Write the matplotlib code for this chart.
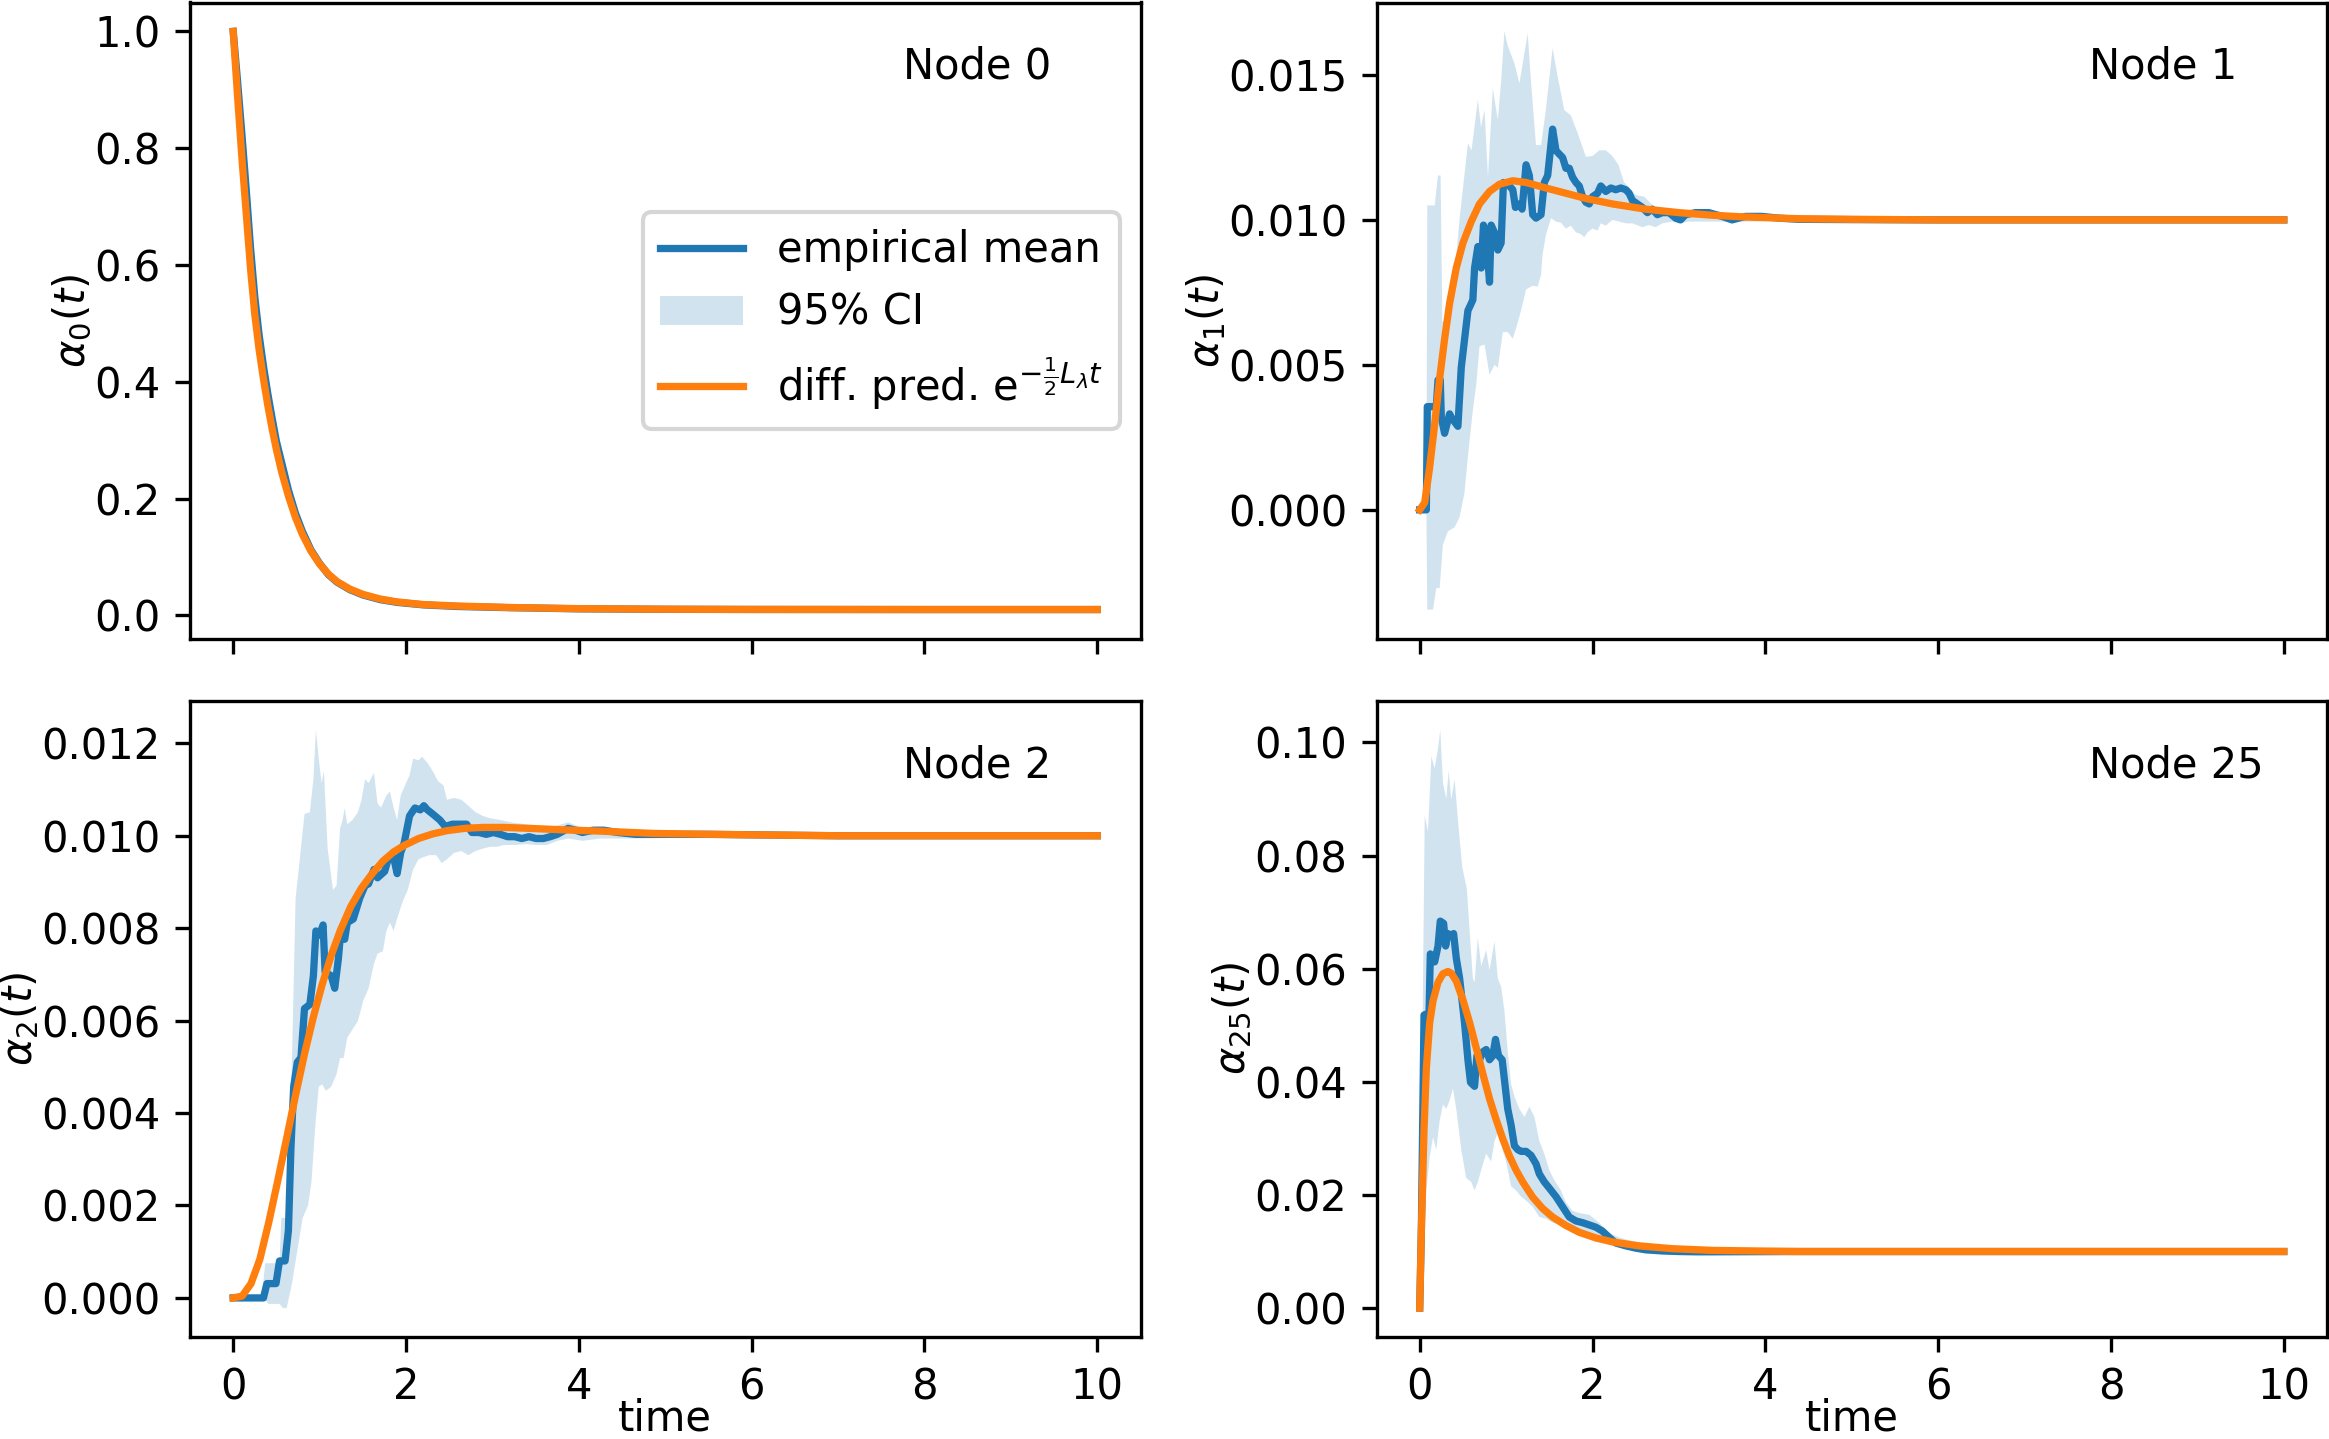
import numpy as np
import matplotlib
matplotlib.use("Agg")
import matplotlib.pyplot as plt

# ---------------- data ----------------
node_names = ["Node 0", "Node 1", "Node 2", "Node 25"]
ylabels = [r"$\alpha_0(t)$", r"$\alpha_1(t)$", r"$\alpha_2(t)$", r"$\alpha_{25}(t)$"]

# Node 0
t0 = [0, 0.05, 0.1, 0.15, 0.2, 0.25, 0.3, 0.35, 0.4, 0.45, 0.5, 0.56, 0.64, 0.72, 0.8,
      0.9, 1.0, 1.1, 1.2, 1.35, 1.5, 1.7, 1.9, 2.2, 2.6, 3.2, 4.0, 5.0, 6.0, 8.0, 10.0]
pred0 = [1.0, 0.89, 0.785, 0.69, 0.595, 0.515, 0.455, 0.405, 0.36, 0.32, 0.284, 0.246,
         0.204, 0.168, 0.139, 0.11, 0.088, 0.071, 0.058, 0.045, 0.036, 0.028, 0.023,
         0.0185, 0.016, 0.0135, 0.0115, 0.0105, 0.0102, 0.01, 0.01]
mean0 = [1.0, 0.915, 0.825, 0.73, 0.63, 0.545, 0.48, 0.427, 0.38, 0.338, 0.298, 0.262,
         0.214, 0.175, 0.144, 0.112, 0.089, 0.07, 0.057, 0.044, 0.035, 0.027, 0.0222,
         0.018, 0.0152, 0.0132, 0.0112, 0.0104, 0.0101, 0.01, 0.01]
upper0 = [1.0, 0.925, 0.838, 0.745, 0.647, 0.563, 0.5, 0.449, 0.404, 0.362, 0.32, 0.282,
          0.232, 0.19, 0.156, 0.122, 0.097, 0.076, 0.062, 0.048, 0.038, 0.0295, 0.0242,
          0.0195, 0.0162, 0.014, 0.0117, 0.0107, 0.0103, 0.0101, 0.01]
lower0 = [1.0, 0.905, 0.812, 0.715, 0.613, 0.527, 0.46, 0.405, 0.356, 0.314, 0.276, 0.242,
          0.196, 0.16, 0.132, 0.102, 0.081, 0.064, 0.052, 0.04, 0.032, 0.0245, 0.0202,
          0.0165, 0.0142, 0.0124, 0.0107, 0.0101, 0.0099, 0.0099, 0.01]

# Node 1  (t, value) pairs
mean1 = [(0, 0), (0.077, 0), (0.088, 0.00356), (0.173, 0.00356), (0.192, 0.00356),
         (0.212, 0.00448), (0.238, 0.00448), (0.25, 0.00319), (0.288, 0.00264),
         (0.346, 0.00331), (0.365, 0.00319), (0.442, 0.00288), (0.481, 0.00491),
         (0.558, 0.00687), (0.615, 0.00724), (0.635, 0.00834), (0.673, 0.00908),
         (0.712, 0.00834), (0.738, 0.00982), (0.769, 0.00945), (0.808, 0.00785),
         (0.827, 0.00982), (0.865, 0.00957), (0.904, 0.00896), (0.942, 0.0092),
         (0.969, 0.01129), (1.019, 0.01123), (1.077, 0.01104), (1.108, 0.01043),
         (1.154, 0.01055), (1.185, 0.01037), (1.231, 0.0119), (1.269, 0.01153),
         (1.308, 0.01018), (1.346, 0.01006), (1.404, 0.01018), (1.442, 0.01129),
         (1.481, 0.01153), (1.538, 0.01313), (1.577, 0.01239), (1.615, 0.01227),
         (1.654, 0.01215), (1.692, 0.01178), (1.731, 0.01178), (1.769, 0.01147),
         (1.808, 0.01129), (1.846, 0.01117), (1.885, 0.0108), (1.923, 0.01061),
         (1.962, 0.01055), (2.0, 0.0108), (2.058, 0.01092), (2.096, 0.01117),
         (2.154, 0.01098), (2.212, 0.0111), (2.269, 0.01104), (2.327, 0.0111),
         (2.385, 0.01104), (2.423, 0.01092), (2.462, 0.01067), (2.519, 0.01055),
         (2.577, 0.01043), (2.635, 0.01025), (2.692, 0.01037), (2.75, 0.01018),
         (2.808, 0.01025), (2.885, 0.01025), (2.962, 0.01006), (3.019, 0.01),
         (3.077, 0.01018), (3.192, 0.01025), (3.346, 0.01025), (3.5, 0.01012),
         (3.615, 0.01), (3.769, 0.01012), (3.96, 0.01012), (4.154, 0.01006),
         (4.385, 0.01002), (5.0, 0.01001), (6.0, 0.01), (8.0, 0.01), (10.0, 0.01)]
pred1 = [(0, 0), (0.058, 0.00025), (0.115, 0.00147), (0.173, 0.00294), (0.231, 0.00454),
         (0.288, 0.00589), (0.346, 0.00712), (0.423, 0.00834), (0.5, 0.0092),
         (0.596, 0.00994), (0.692, 0.01055), (0.808, 0.01098), (0.923, 0.01123),
         (1.077, 0.01135), (1.23, 0.01129), (1.46, 0.0111), (1.69, 0.01092),
         (1.92, 0.01074), (2.23, 0.01055), (2.615, 0.01037), (3.0, 0.01025),
         (3.385, 0.01016), (3.77, 0.0101), (4.385, 0.01004), (5.0, 0.01002),
         (6.0, 0.01), (10.0, 0.01)]
upper1 = [(0, 0), (0.077, 0.0), (0.088, 0.0105), (0.173, 0.0105), (0.212, 0.01153),
          (0.242, 0.01153), (0.262, 0.0065), (0.308, 0.0065), (0.346, 0.00724),
          (0.404, 0.00809), (0.462, 0.01006), (0.558, 0.01264), (0.6, 0.0124),
          (0.673, 0.01414), (0.71, 0.0132), (0.75, 0.0138), (0.79, 0.01149),
          (0.846, 0.01454), (0.904, 0.01345), (0.94, 0.0147), (0.98, 0.0165),
          (1.02, 0.016), (1.096, 0.0154), (1.154, 0.01471), (1.25, 0.01644),
          (1.29, 0.0147), (1.346, 0.01258), (1.404, 0.01258), (1.46, 0.01379),
          (1.538, 0.01592), (1.596, 0.01495), (1.673, 0.01379), (1.75, 0.0136),
          (1.827, 0.013), (1.923, 0.01218), (2.0, 0.0122), (2.077, 0.0124),
          (2.154, 0.0124), (2.23, 0.0122), (2.3, 0.0119), (2.365, 0.0113),
          (2.43, 0.0111), (2.5, 0.01086), (2.6, 0.0108), (2.73, 0.0104),
          (2.808, 0.0104), (2.885, 0.0103), (2.962, 0.0102), (3.1, 0.01025),
          (3.3, 0.0102), (3.6, 0.0101), (4.0, 0.01012), (4.4, 0.01008),
          (5.0, 0.01003), (10.0, 0.01)]
lower1 = [(0, 0), (0.077, 0), (0.088, -0.00344), (0.154, -0.00344), (0.192, -0.0027),
          (0.231, -0.0027), (0.269, -0.0012), (0.327, -0.00074), (0.404, -0.0006),
          (0.462, -0.00025), (0.519, 0.0006), (0.558, 0.00184), (0.615, 0.00344),
          (0.654, 0.0043), (0.692, 0.00564), (0.75, 0.0057), (0.808, 0.00466),
          (0.865, 0.005), (0.904, 0.0049), (0.962, 0.00613), (1.019, 0.00613),
          (1.077, 0.0059), (1.115, 0.00626), (1.173, 0.00687), (1.212, 0.00736),
          (1.231, 0.0076), (1.308, 0.00773), (1.365, 0.0077), (1.404, 0.0081),
          (1.423, 0.00883), (1.462, 0.0095), (1.519, 0.01006), (1.577, 0.00994),
          (1.635, 0.0099), (1.692, 0.0097), (1.75, 0.0098), (1.808, 0.00957),
          (1.865, 0.00951), (1.904, 0.0094), (1.942, 0.00957), (2.0, 0.0097),
          (2.058, 0.00963), (2.096, 0.00988), (2.154, 0.0098), (2.231, 0.01),
          (2.308, 0.00994), (2.385, 0.00988), (2.462, 0.00988), (2.577, 0.00975),
          (2.654, 0.00982), (2.731, 0.00975), (2.808, 0.00988), (2.923, 0.00994),
          (3.0, 0.00988), (3.115, 0.00994), (3.4, 0.00994), (3.8, 0.00994),
          (4.385, 0.00998), (5.0, 0.01), (10.0, 0.01)]

# Node 2
mean2 = [(0, 0), (0.35, 0), (0.39, 0.00031), (0.495, 0.00031), (0.536, 0.0008),
         (0.6, 0.0008), (0.639, 0.00146), (0.668, 0.00324), (0.70, 0.00457),
         (0.742, 0.0051), (0.784, 0.0052), (0.825, 0.00626), (0.887, 0.00635),
         (0.928, 0.00697), (0.957, 0.00794), (0.998, 0.00785), (1.04, 0.00807),
         (1.064, 0.00705), (1.134, 0.00697), (1.175, 0.0067), (1.216, 0.00732),
         (1.237, 0.00776), (1.29, 0.00776), (1.32, 0.00812), (1.39, 0.0082),
         (1.464, 0.00865), (1.526, 0.00892), (1.567, 0.00896), (1.629, 0.00927),
         (1.67, 0.00909), (1.753, 0.00923), (1.794, 0.0095), (1.856, 0.00954),
         (1.897, 0.00918), (1.938, 0.00963), (1.979, 0.00985), (2.041, 0.01043),
         (2.103, 0.0106), (2.165, 0.01056), (2.206, 0.01065), (2.248, 0.01056),
         (2.309, 0.01047), (2.392, 0.01034), (2.454, 0.0102), (2.536, 0.01025),
         (2.619, 0.01025), (2.701, 0.01025), (2.763, 0.01007), (2.845, 0.01007),
         (2.928, 0.01003), (3.01, 0.01007), (3.093, 0.01003), (3.175, 0.00998),
         (3.258, 0.00998), (3.34, 0.00994), (3.423, 0.00998), (3.505, 0.00994),
         (3.588, 0.00994), (3.67, 0.00998), (3.75, 0.01003), (3.876, 0.01016),
         (3.959, 0.01012), (4.041, 0.01007), (4.165, 0.01012), (4.289, 0.01012),
         (4.454, 0.01007), (4.66, 0.01003), (5.5, 0.01003), (7.0, 0.01), (10.0, 0.01)]
pred2 = [(0, 0), (0.103, 0.00004), (0.206, 0.00031), (0.309, 0.00084), (0.412, 0.00164),
         (0.515, 0.00253), (0.619, 0.00346), (0.722, 0.00439), (0.825, 0.00528),
         (0.928, 0.00608), (1.031, 0.00679), (1.134, 0.00741), (1.237, 0.00794),
         (1.361, 0.00847), (1.485, 0.00887), (1.608, 0.00918), (1.732, 0.00945),
         (1.856, 0.00965), (1.979, 0.00979), (2.144, 0.00994), (2.309, 0.01004),
         (2.474, 0.01011), (2.68, 0.01016), (2.887, 0.01018), (3.134, 0.01018),
         (3.423, 0.01016), (3.794, 0.01013), (4.247, 0.0101), (4.866, 0.01005),
         (5.97, 0.01002), (7.0, 0.01), (10.0, 0.01)]
upper2 = [(0, 0), (0.33, 0.0), (0.37, 0.00075), (0.536, 0.00075), (0.557, 0.00173),
          (0.619, 0.00173), (0.66, 0.0035), (0.722, 0.00865), (0.763, 0.00936),
          (0.825, 0.01047), (0.887, 0.01051), (0.928, 0.01122), (0.957, 0.01229),
          (0.99, 0.01167), (1.023, 0.01114), (1.05, 0.0114), (1.093, 0.00972),
          (1.155, 0.00883), (1.196, 0.00892), (1.237, 0.01016), (1.266, 0.01034),
          (1.29, 0.0106), (1.32, 0.01025), (1.381, 0.01034), (1.443, 0.01051),
          (1.485, 0.01078), (1.526, 0.01122), (1.567, 0.01114), (1.629, 0.01136),
          (1.67, 0.0107), (1.711, 0.01061), (1.773, 0.01087), (1.814, 0.01096),
          (1.856, 0.01061), (1.897, 0.01034), (1.938, 0.01087), (1.979, 0.01105),
          (2.041, 0.01131), (2.082, 0.01167), (2.144, 0.01163), (2.186, 0.01171),
          (2.247, 0.01158), (2.309, 0.0114), (2.371, 0.01118), (2.433, 0.01109),
          (2.474, 0.01078), (2.557, 0.01082), (2.64, 0.01078), (2.722, 0.01065),
          (2.804, 0.01051), (2.887, 0.01043), (2.969, 0.01038), (3.093, 0.01034),
          (3.217, 0.01029), (3.381, 0.01025), (3.546, 0.0102), (3.711, 0.0102),
          (3.876, 0.01029), (4.0, 0.0102), (4.124, 0.01016), (4.454, 0.01012),
          (4.866, 0.01007), (5.97, 0.01003), (7.0, 0.01), (10.0, 0.01)]
lower2 = [(0, 0), (0.35, 0), (0.41, -0.00013), (0.536, -0.00013), (0.577, -0.00022),
          (0.619, -0.00022), (0.68, 0.00031), (0.742, 0.00102), (0.804, 0.00173),
          (0.866, 0.002), (0.907, 0.00253), (0.948, 0.00368), (0.99, 0.00457),
          (1.031, 0.00462), (1.072, 0.00448), (1.134, 0.00457), (1.196, 0.00484),
          (1.237, 0.00519), (1.278, 0.00519), (1.32, 0.00563), (1.381, 0.00581),
          (1.443, 0.00599), (1.505, 0.00643), (1.567, 0.0067), (1.629, 0.00723),
          (1.67, 0.00745), (1.732, 0.0075), (1.773, 0.00794), (1.814, 0.00812),
          (1.856, 0.00794), (1.897, 0.00821), (1.959, 0.00856), (2.02, 0.00883),
          (2.082, 0.00927), (2.144, 0.00949), (2.206, 0.00954), (2.268, 0.00958),
          (2.35, 0.00958), (2.412, 0.00941), (2.474, 0.00949), (2.557, 0.00963),
          (2.639, 0.00967), (2.722, 0.00958), (2.804, 0.00967), (2.887, 0.00972),
          (2.969, 0.00976), (3.052, 0.00976), (3.134, 0.0098), (3.258, 0.0098),
          (3.381, 0.00982), (3.505, 0.0098), (3.629, 0.0098), (3.753, 0.00989),
          (3.876, 0.00994), (4.041, 0.00989), (4.247, 0.00994), (4.66, 0.00994),
          (5.97, 0.00998), (7.0, 0.01), (10.0, 0.01)]

# Node 25
mean25 = [(0, 0), (0.019, 0.0136), (0.05, 0.0518), (0.108, 0.0522), (0.123, 0.0626),
          (0.173, 0.0612), (0.212, 0.064), (0.238, 0.0684), (0.277, 0.068), (0.3, 0.064),
          (0.327, 0.0662), (0.365, 0.0658), (0.392, 0.0662), (0.423, 0.0619),
          (0.462, 0.0583), (0.519, 0.0504), (0.558, 0.0439), (0.588, 0.0399),
          (0.635, 0.0392), (0.662, 0.0446), (0.692, 0.0439), (0.731, 0.0453),
          (0.769, 0.0457), (0.808, 0.0439), (0.846, 0.0446), (0.877, 0.0475),
          (0.912, 0.0446), (0.954, 0.0439), (0.981, 0.0403), (1.019, 0.0352),
          (1.058, 0.0323), (1.096, 0.0287), (1.135, 0.028), (1.173, 0.0277),
          (1.231, 0.0277), (1.288, 0.027), (1.346, 0.0255), (1.385, 0.0237),
          (1.442, 0.0223), (1.5, 0.0212), (1.577, 0.0197), (1.654, 0.0179),
          (1.731, 0.0161), (1.808, 0.0154), (1.885, 0.0151), (1.962, 0.0147),
          (2.038, 0.0143), (2.115, 0.0136), (2.192, 0.0125), (2.269, 0.0115),
          (2.385, 0.011), (2.5, 0.0106), (2.615, 0.0103), (2.808, 0.0101),
          (3.0, 0.0100), (3.192, 0.00995), (3.385, 0.00995), (4.385, 0.01),
          (6.0, 0.01), (10.0, 0.01)]
pred25 = [(0, 0), (0.019, 0.0136), (0.05, 0.0316), (0.077, 0.0424), (0.115, 0.0504),
          (0.154, 0.0543), (0.212, 0.0576), (0.269, 0.0591), (0.327, 0.0595),
          (0.365, 0.0592), (0.423, 0.0578), (0.5, 0.0545), (0.577, 0.0505),
          (0.654, 0.046), (0.731, 0.0414), (0.808, 0.0370), (0.885, 0.0333),
          (0.962, 0.0299), (1.038, 0.0269), (1.115, 0.0244), (1.192, 0.0223),
          (1.308, 0.0196), (1.423, 0.0176), (1.538, 0.0161), (1.692, 0.0146),
          (1.846, 0.0134), (2.038, 0.0124), (2.231, 0.0117), (2.538, 0.0110),
          (2.923, 0.0105), (3.385, 0.0102), (4.385, 0.0100), (6.0, 0.01), (10.0, 0.01)]
upper25 = [(0, 0), (0.04, 0.06), (0.058, 0.0871), (0.096, 0.0842), (0.135, 0.0976),
           (0.173, 0.0954), (0.212, 0.0989), (0.238, 0.1022), (0.269, 0.0929),
           (0.308, 0.09), (0.335, 0.095), (0.365, 0.0899), (0.404, 0.0935),
           (0.442, 0.0864), (0.492, 0.078), (0.546, 0.0741), (0.577, 0.0669),
           (0.615, 0.0583), (0.635, 0.0576), (0.673, 0.0655), (0.712, 0.0604),
           (0.769, 0.0633), (0.808, 0.0597), (0.865, 0.0648), (0.904, 0.0583),
           (0.942, 0.0568), (0.981, 0.0525), (1.019, 0.0453), (1.058, 0.0396),
           (1.096, 0.0374), (1.154, 0.0352), (1.212, 0.0338), (1.269, 0.0356),
           (1.327, 0.0338), (1.385, 0.0295), (1.442, 0.0273), (1.5, 0.0244),
           (1.558, 0.0226), (1.635, 0.0208), (1.692, 0.0187), (1.769, 0.0172),
           (1.846, 0.0168), (1.962, 0.0165), (2.077, 0.0151), (2.192, 0.0133),
           (2.308, 0.0125), (2.462, 0.0118), (2.615, 0.0114), (2.846, 0.0109),
           (3.2, 0.0106), (3.6, 0.0104), (4.385, 0.0101), (6.0, 0.01), (10.0, 0.01)]
lower25 = [(0, 0), (0.03, 0.0), (0.05, 0.012), (0.077, 0.0208), (0.115, 0.0266),
           (0.154, 0.0302), (0.192, 0.028), (0.231, 0.0331), (0.269, 0.036),
           (0.308, 0.0352), (0.346, 0.0367), (0.385, 0.0388), (0.423, 0.0352),
           (0.481, 0.028), (0.538, 0.023), (0.596, 0.0223), (0.635, 0.0208),
           (0.673, 0.0223), (0.712, 0.0244), (0.769, 0.0273), (0.827, 0.0259),
           (0.865, 0.0295), (0.904, 0.0309), (0.942, 0.0287), (1.0, 0.0259),
           (1.058, 0.0215), (1.115, 0.0208), (1.173, 0.0197), (1.231, 0.019),
           (1.308, 0.0179), (1.385, 0.0161), (1.462, 0.0158), (1.538, 0.0151),
           (1.635, 0.0147), (1.731, 0.014), (1.846, 0.0136), (1.962, 0.0129),
           (2.077, 0.0122), (2.231, 0.0111), (2.423, 0.0104), (2.615, 0.0101),
           (3.0, 0.0099), (3.385, 0.00985), (4.385, 0.0099), (6.0, 0.01), (10.0, 0.01)]

# ---------------- plotting ----------------
plt.rcParams["font.family"] = ["DejaVu Sans"]
plt.rcParams["font.size"] = 10

C_MEAN = "#1f77b4"
C_PRED = "#ff7f0e"


def unzip(pairs):
    a = np.array(pairs, dtype=float)
    return a[:, 0], a[:, 1]


panels = [
    (list(zip(t0, mean0)), list(zip(t0, pred0)), list(zip(t0, upper0)), list(zip(t0, lower0))),
    (mean1, pred1, upper1, lower1),
    (mean2, pred2, upper2, lower2),
    (mean25, pred25, upper25, lower25),
]

fig = plt.figure(figsize=(2329 / 300, 1439 / 300), dpi=300)
axes = fig.subplots(2, 2, sharex=True)
fig.subplots_adjust(left=190 / 2329, right=2327 / 2329, top=1 - 2.5 / 1439,
                    bottom=1 - 1337 / 1439, wspace=236 / 950.5, hspace=62.5 / 636)

for i, ax in enumerate(axes.flat):
    m, p, up, lo = panels[i]
    tm, vm = unzip(m)
    tp, vp = unzip(p)
    tu, vu = unzip(up)
    tl, vl = unzip(lo)
    ci = ax.fill(np.concatenate([tu, tl[::-1]]), np.concatenate([vu, vl[::-1]]),
                 facecolor=C_MEAN, alpha=0.2, edgecolor="none", linewidth=0)[0]
    lm, = ax.plot(tm, vm, color=C_MEAN, lw=1.75)
    lp, = ax.plot(tp, vp, color=C_PRED, lw=1.75)
    ax.set_ylabel(ylabels[i], labelpad=0)
    ax.text(0.75, 0.88, node_names[i], transform=ax.transAxes)
    ax.set_xticks([0, 2, 4, 6, 8, 10])
    if i >= 2:
        ax.set_xlabel("time", labelpad=-2.5)
    if i == 0:
        ax.legend([lm, ci, lp],
                  ["empirical mean", "95% CI", r"diff. pred. e$^{-\frac{1}{2}L_\lambda t}$"],
                  loc="center right")

fig.savefig("out.png", dpi=300)
